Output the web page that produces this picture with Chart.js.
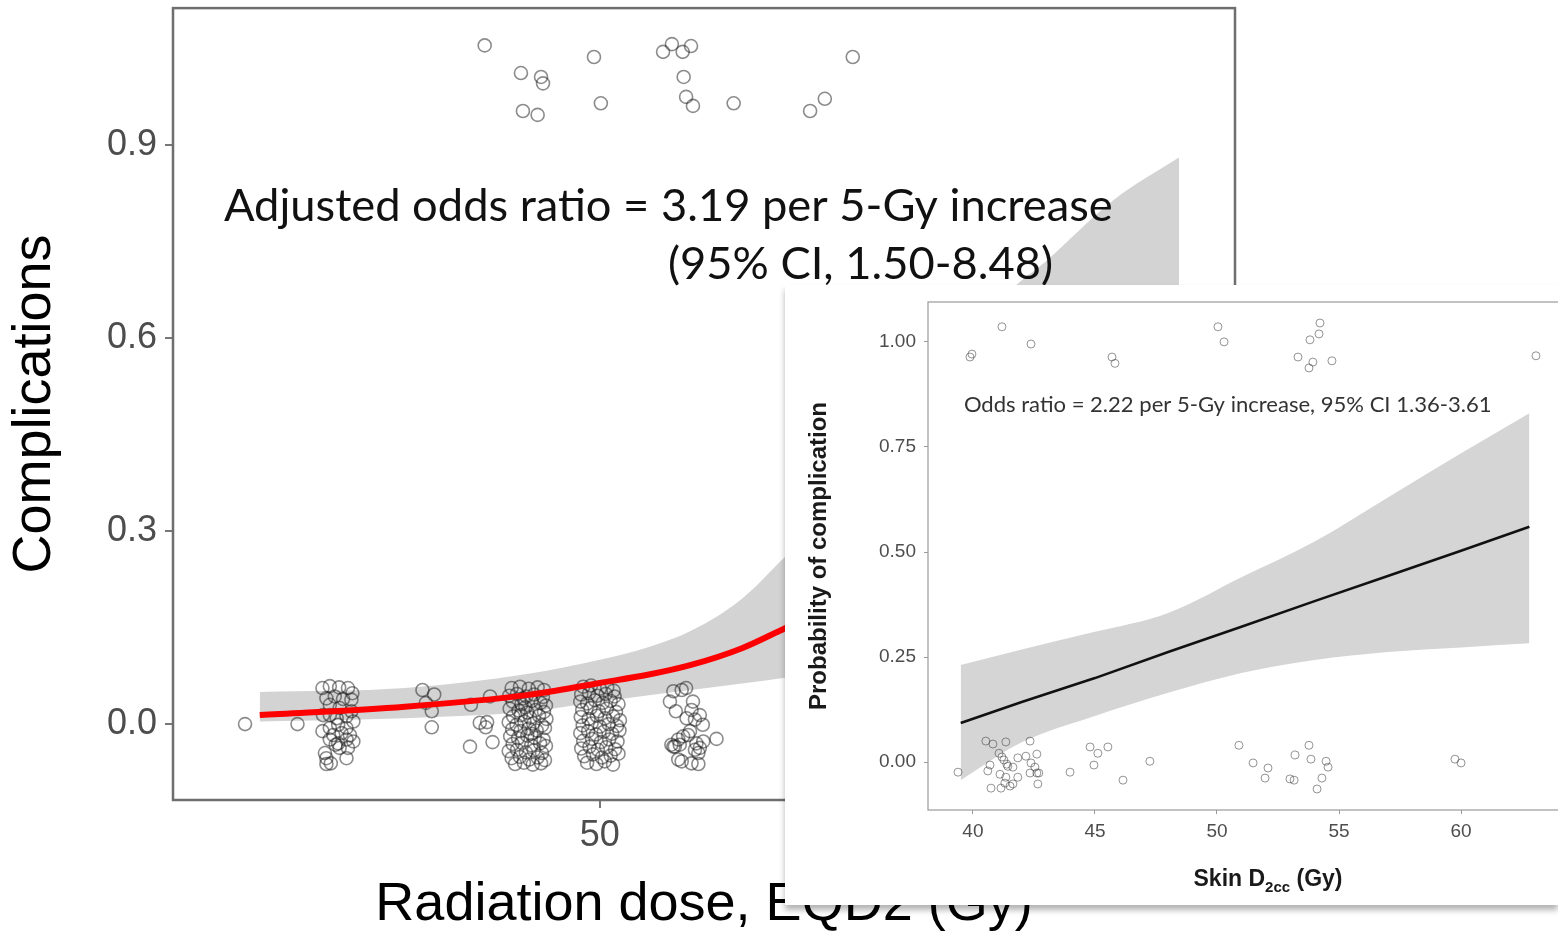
<!DOCTYPE html>
<html>
<head>
<meta charset="utf-8">
<script src="https://cdn.jsdelivr.net/npm/chart.js@4"></script>
<style>
html, body { margin: 0; padding: 0; background: #fff; overflow: hidden; width: 1558px; height: 934px; }
#main { position: absolute; left: 0; top: 0; }
#card { position: absolute; left: 785px; top: 285px; width: 773px; height: 620px; background: #fff;
        overflow: hidden; box-shadow: 0 5px 6px rgba(0,0,0,0.3); }
#inset { position: absolute; left: 0; top: 0; }
</style>
</head>
<body>
<canvas id="main" width="1558" height="934"></canvas>
<div id="card"><canvas id="inset" width="790" height="620"></canvas></div>
<script>
// ---- main chart: EQD2 vs complications ----
const mainXTicks = [50, 60];
const mainYTicks = [0, 0.3, 0.6, 0.9];

// fitted curve + 95% band
const curveDose  = [43.06, 46.02, 48.51, 50.0, 51.0, 51.86, 52.9, 53.78, 55.0, 56.12, 57.14, 58.37, 59.08, 60.49, 61.82];
const curveFit   = [0.014, 0.027, 0.045, 0.064, 0.077, 0.092, 0.118, 0.149, 0.19, 0.24, 0.29, 0.36, 0.40, 0.49, 0.58];
const curveUpper = [0.050, 0.056, 0.078, 0.100, 0.120, 0.145, 0.195, 0.260, 0.35, 0.45, 0.55, 0.673, 0.718, 0.815, 0.881];
const curveLower = [0.004, 0.009, 0.019, 0.035, 0.045, 0.053, 0.063, 0.072, 0.085, 0.10, 0.115, 0.14, 0.155, 0.19, 0.225];

// patients with complication (jittered around 1)
const pointsHigh = [
  [47.65,1.055],[48.39,1.012],[48.80,1.006],[48.84,0.996],[48.43,0.953],[48.73,0.947],
  [49.88,1.037],[50.02,0.965],[51.29,1.045],[51.47,1.057],[51.69,1.045],[51.86,1.054],
  [51.71,1.006],[51.76,0.975],[51.90,0.961],[52.73,0.965],[54.29,0.953],[54.59,0.972],[55.16,1.037]
];

// patients without complication (jittered around 0)
const pointsLow = [
  // scattered
  [42.76,0.000],[43.83,0.000],[46.38,0.053],[46.62,0.046],[46.45,0.033],[46.57,0.020],[46.57,-0.005],
  [47.37,0.030],[47.55,0.002],[47.70,0.003],[47.67,-0.005],[47.76,0.043],[47.35,-0.035],[47.81,-0.028],
  // cluster near 44.6
  [44.34,0.056],[44.49,0.059],[44.68,0.057],[44.86,0.056],[44.95,0.048],[44.42,0.040],[44.59,0.043],
  [44.76,0.039],[44.93,0.038],[44.49,0.030],[44.69,0.025],[44.35,0.014],[44.49,0.014],[44.63,0.009],
  [44.83,0.012],[44.97,0.004],[44.49,-0.006],[44.66,-0.001],[44.83,-0.006],[44.34,-0.011],[44.56,-0.017],
  [44.73,-0.014],[44.90,-0.017],[44.49,-0.024],[44.66,-0.030],[44.83,-0.024],[44.97,-0.027],[44.69,-0.037],
  [44.86,-0.037],[44.39,-0.045],[44.42,-0.053],[44.42,-0.062],[44.51,-0.061],[44.83,-0.053],[44.61,-0.032],
  [44.93,0.020],
  // cluster near 48.5
  [48.20,0.056],[48.37,0.058],[48.55,0.055],[48.73,0.057],[48.86,0.053],
  [48.15,0.044],[48.31,0.047],[48.50,0.043],[48.66,0.046],[48.84,0.042],
  [48.22,0.035],[48.40,0.031],[48.61,0.036],[48.79,0.033],[48.90,0.029],
  [48.16,0.024],[48.34,0.021],[48.48,0.026],[48.69,0.022],[48.86,0.019],
  [48.23,0.012],[48.39,0.014],[48.58,0.010],[48.76,0.013],[48.91,0.008],
  [48.14,0.003],[48.30,-0.001],[48.46,0.004],[48.64,0.001],[48.82,-0.002],
  [48.21,-0.008],[48.38,-0.011],[48.55,-0.007],[48.71,-0.010],[48.88,-0.006],
  [48.17,-0.019],[48.33,-0.022],[48.52,-0.018],[48.67,-0.021],[48.85,-0.024],
  [48.22,-0.031],[48.41,-0.029],[48.60,-0.033],[48.78,-0.030],[48.90,-0.034],
  [48.14,-0.042],[48.31,-0.040],[48.49,-0.044],[48.65,-0.041],[48.82,-0.045],
  [48.20,-0.053],[48.37,-0.051],[48.56,-0.055],[48.73,-0.052],[48.88,-0.056],
  [48.27,-0.062],[48.45,-0.060],[48.63,-0.063],[48.80,-0.061],[48.44,0.040],[48.60,-0.015],[48.52,0.018],
  // cluster near 50
  [49.66,0.058],[49.82,0.060],[50.00,0.055],[50.15,0.057],[50.28,0.052],
  [49.62,0.046],[49.78,0.048],[49.95,0.044],[50.12,0.047],[50.30,0.043],
  [49.60,0.035],[49.74,0.032],[49.90,0.037],[50.06,0.033],[50.22,0.036],[50.38,0.031],
  [49.64,0.022],[49.81,0.025],[49.98,0.020],[50.14,0.024],[50.33,0.019],
  [49.61,0.011],[49.77,0.008],[49.94,0.013],[50.10,0.009],[50.27,0.012],[50.41,0.006],
  [49.65,-0.002],[49.83,0.001],[50.00,-0.004],[50.18,0.000],[50.35,-0.003],
  [49.60,-0.014],[49.76,-0.011],[49.92,-0.016],[50.08,-0.012],[50.25,-0.015],[50.40,-0.010],
  [49.66,-0.026],[49.84,-0.023],[50.02,-0.028],[50.19,-0.024],[50.36,-0.027],
  [49.62,-0.038],[49.79,-0.035],[49.96,-0.040],[50.13,-0.036],[50.31,-0.039],
  [49.68,-0.050],[49.86,-0.047],[50.04,-0.052],[50.22,-0.049],[50.38,-0.046],
  [49.74,-0.060],[49.93,-0.062],[50.10,-0.058],[50.27,-0.063],
  // cluster near 51.8
  [51.50,0.051],[51.67,0.053],[51.76,0.056],[51.43,0.035],[51.90,0.035],[51.55,0.020],[51.87,0.022],
  [52.04,0.014],[51.77,0.009],[52.10,-0.001],[51.94,0.007],[51.84,-0.011],[51.70,-0.019],[51.60,-0.024],
  [51.46,-0.032],[51.53,-0.035],[51.63,-0.032],[51.97,-0.030],[52.11,-0.027],[52.38,-0.023],[52.04,-0.037],
  [51.94,-0.040],[52.01,-0.045],[51.60,-0.055],[51.67,-0.058],[51.87,-0.061],[52.01,-0.062],[51.50,-0.035],
  [51.80,-0.017]
];

// ---- inset chart: skin D2cc vs probability ----
const insetXTicks = [40, 45, 50, 55, 60];
const insetYTicks = [0, 0.25, 0.5, 0.75, 1];
const insetDose  = [39.5, 42, 45, 48, 51, 54, 57, 60, 62.8];
const insetFit   = [0.093, 0.143, 0.200, 0.262, 0.322, 0.383, 0.443, 0.503, 0.560];
const insetUpper = [0.231, 0.268, 0.310, 0.355, 0.440, 0.525, 0.630, 0.735, 0.830];
const insetLower = [-0.043, 0.047, 0.110, 0.165, 0.212, 0.243, 0.262, 0.273, 0.283];

const insetHigh = [
  [39.88,0.964],[39.96,0.971],[41.19,1.036],[42.38,0.995],[45.70,0.964],[45.82,0.949],
  [50.04,1.036],[50.29,1.000],[54.22,1.045],[54.18,1.019],[53.81,1.005],[53.32,0.964],
  [53.93,0.952],[53.77,0.938],[54.71,0.955],[63.07,0.967]
];
const insetLow = [
  [39.39,-0.024],[40.53,0.050],[40.82,0.043],[41.35,0.048],[42.34,0.050],[40.70,-0.007],[40.61,-0.021],
  [41.07,0.021],[41.19,0.012],[41.27,0.005],[41.39,-0.005],[41.43,-0.010],[41.11,-0.029],[41.35,-0.036],
  [41.31,-0.050],[41.64,-0.012],[41.84,0.010],[42.17,0.014],[42.62,0.019],[42.38,-0.002],[42.54,-0.012],
  [42.34,-0.026],[42.62,-0.026],[42.70,-0.026],[41.84,-0.036],[41.64,-0.052],[41.52,-0.057],[41.15,-0.062],
  [40.74,-0.062],[42.66,-0.052],[43.98,-0.024],[44.80,0.036],[45.12,0.021],[45.53,0.036],[44.96,-0.007],
  [46.15,-0.043],[47.25,0.002],[50.90,0.040],[51.48,-0.002],[52.09,-0.014],[51.97,-0.038],[53.20,0.017],
  [52.99,-0.040],[53.16,-0.043],[53.77,0.040],[53.85,0.007],[54.47,0.002],[54.55,-0.012],[54.30,-0.038],
  [54.10,-0.064],[59.75,0.007],[60.00,-0.002]
];

const SANS = "'Liberation Sans', Arial, sans-serif";
const NOTE = "Lato, 'Open Sans', sans-serif";

const xy = arr => arr.map(p => ({ x: p[0], y: p[1] }));
const zipXY = (xs, ys) => xs.map((x, i) => ({ x: x, y: ys[i] }));

// fixed axis sizes, no extra padding for half tick labels
const fixWidth = w => s => { s.width = w; s.paddingTop = 0; s.paddingBottom = 0; };
const fixHeight = h => s => { s.height = h; s.paddingLeft = 0; s.paddingRight = 0; };

// frame around the plot area
const boxPlugin = {
  id: 'box',
  afterDatasetsDraw(chart, args, opts) {
    const { ctx, chartArea: a } = chart;
    ctx.save();
    ctx.strokeStyle = opts.color;
    ctx.lineWidth = opts.width;
    ctx.strokeRect(a.left, a.top, a.right - a.left, a.bottom - a.top);
    ctx.restore();
  }
};

// text annotations placed in data units
const notePlugin = {
  id: 'note',
  afterDatasetsDraw(chart, args, opts) {
    const { ctx, scales } = chart;
    ctx.save();
    ctx.font = opts.size + 'px ' + opts.family;
    const size = opts.size * opts.fitWidth / ctx.measureText(opts.items[0].text).width;
    ctx.font = size.toFixed(2) + 'px ' + opts.family;
    ctx.fillStyle = opts.color;
    ctx.textAlign = 'left';
    ctx.textBaseline = 'middle';
    opts.items.forEach(it => {
      ctx.fillText(it.text, scales.x.getPixelForValue(it.x), scales.y.getPixelForValue(it.y));
    });
    ctx.restore();
  }
};

// axis title with a subscript (Skin D2cc)
const subTitlePlugin = {
  id: 'subTitle',
  afterDraw(chart, args, o) {
    const { ctx, chartArea: a } = chart;
    ctx.save();
    ctx.fillStyle = o.color;
    ctx.textBaseline = 'alphabetic';
    ctx.textAlign = 'left';
    const big = 'bold ' + o.size + 'px ' + o.family;
    const small = 'bold ' + o.subSize + 'px ' + o.family;
    ctx.font = big;
    const w1 = ctx.measureText(o.main).width, w3 = ctx.measureText(o.after).width;
    ctx.font = small;
    const w2 = ctx.measureText(o.sub).width;
    let x = (a.left + a.right) / 2 + o.offsetX - (w1 + w2 + w3) / 2;
    const base = a.bottom + o.gap;
    ctx.font = big; ctx.fillText(o.main, x, base); x += w1;
    ctx.font = small; ctx.fillText(o.sub, x, base + o.subDrop); x += w2;
    ctx.font = big; ctx.fillText(o.after, x, base);
    ctx.restore();
  }
};

new Chart(document.getElementById('main').getContext('2d'), {
  type: 'line',
  data: {
    datasets: [
      { data: zipXY(curveDose, curveFit), borderColor: '#ff0000', borderWidth: 6, pointRadius: 0,
        cubicInterpolationMode: 'monotone', fill: false, order: 0 },
      { data: xy(pointsLow), showLine: false, pointRadius: 6.5, borderWidth: 1.6,
        borderColor: 'rgba(25,25,25,0.5)', backgroundColor: 'rgba(0,0,0,0)', order: 1 },
      { data: xy(pointsHigh), showLine: false, pointRadius: 6.5, borderWidth: 1.6,
        borderColor: 'rgba(25,25,25,0.5)', backgroundColor: 'rgba(0,0,0,0)', order: 1 },
      { data: zipXY(curveDose, curveUpper), borderWidth: 0, pointRadius: 0, cubicInterpolationMode: 'monotone',
        fill: '+1', backgroundColor: '#d3d3d3', order: 2 },
      { data: zipXY(curveDose, curveLower), borderWidth: 0, pointRadius: 0, cubicInterpolationMode: 'monotone',
        fill: false, order: 3 }
    ]
  },
  options: {
    responsive: false,
    animation: false,
    events: [],
    layout: { padding: { top: 8, right: 323, left: 0, bottom: 0 } },
    scales: {
      x: {
        type: 'linear', min: 41.29, max: 62.96,
        afterBuildTicks: s => { s.ticks = mainXTicks.map(v => ({ value: v })); },
        afterFit: fixHeight(134),
        grid: { drawOnChartArea: false, tickLength: 8, color: '#777', lineWidth: 2 },
        border: { display: false },
        ticks: { padding: 6, color: '#4d4d4d', font: { family: SANS, size: 36 } },
        title: { display: true, text: 'Radiation dose, EQD2 (Gy)', color: '#000',
                 font: { family: SANS, size: 54, lineHeight: 1 }, padding: { top: 0, bottom: 2 } }
      },
      y: {
        min: -0.118, max: 1.113,
        afterBuildTicks: s => { s.ticks = mainYTicks.map(v => ({ value: v })); },
        afterFit: fixWidth(173),
        grid: { drawOnChartArea: false, tickLength: 8, color: '#777', lineWidth: 2 },
        border: { display: false },
        ticks: { padding: 8, color: '#4d4d4d', font: { family: SANS, size: 36 },
                 callback: v => v.toFixed(1) },
        title: { display: true, text: 'Complications', color: '#000',
                 font: { family: SANS, size: 54 }, padding: { top: 3, bottom: 0 } }
      }
    },
    plugins: {
      legend: { display: false },
      tooltip: { enabled: false },
      box: { color: '#6e6e6e', width: 2.5 },
      note: { family: NOTE, size: 40, color: '#111', fitWidth: 889,
              items: [
                { text: 'Adjusted odds ratio = 3.19 per 5-Gy increase', x: 42.33, y: 0.804 },
                { text: '(95% CI, 1.50-8.48)', x: 51.39, y: 0.714 }
              ] }
    }
  },
  plugins: [boxPlugin, notePlugin]
});

new Chart(document.getElementById('inset').getContext('2d'), {
  type: 'line',
  data: {
    datasets: [
      { data: zipXY(insetDose, insetFit), borderColor: '#111', borderWidth: 2.5, pointRadius: 0,
        fill: false, order: 0 },
      { data: xy(insetLow), showLine: false, pointRadius: 4, borderWidth: 1,
        borderColor: 'rgba(60,60,60,0.55)', backgroundColor: 'rgba(0,0,0,0)', order: 1 },
      { data: xy(insetHigh), showLine: false, pointRadius: 4, borderWidth: 1,
        borderColor: 'rgba(60,60,60,0.55)', backgroundColor: 'rgba(0,0,0,0)', order: 1 },
      { data: zipXY(insetDose, insetUpper), borderWidth: 0, pointRadius: 0, cubicInterpolationMode: 'monotone',
        fill: '+1', backgroundColor: '#d5d5d5', order: 2 },
      { data: zipXY(insetDose, insetLower), borderWidth: 0, pointRadius: 0, cubicInterpolationMode: 'monotone',
        fill: false, order: 3 }
    ]
  },
  options: {
    responsive: false,
    animation: false,
    events: [],
    layout: { padding: { top: 17, right: 9, left: 0, bottom: 0 } },
    scales: {
      x: {
        type: 'linear', min: 38.16, max: 64.3,
        afterBuildTicks: s => { s.ticks = insetXTicks.map(v => ({ value: v })); },
        afterFit: fixHeight(95),
        grid: { drawOnChartArea: false, tickLength: 4, color: '#999', lineWidth: 1 },
        border: { display: false },
        ticks: { padding: 6, color: '#4d4d4d', font: { family: SANS, size: 19 } }
      },
      y: {
        min: -0.114, max: 1.095,
        afterBuildTicks: s => { s.ticks = insetYTicks.map(v => ({ value: v })); },
        afterFit: fixWidth(143),
        grid: { drawOnChartArea: false, tickLength: 4, color: '#999', lineWidth: 1 },
        border: { display: false },
        ticks: { padding: 8, color: '#4d4d4d', font: { family: SANS, size: 19 },
                 callback: v => v.toFixed(2) },
        title: { display: true, text: 'Probability of complication', color: '#1a1a1a',
                 font: { family: SANS, size: 24, weight: 'bold' }, padding: { top: 20, bottom: 0 } }
      }
    },
    plugins: {
      legend: { display: false },
      tooltip: { enabled: false },
      box: { color: '#9a9a9a', width: 1.2 },
      note: { family: NOTE, size: 22, color: '#333', fitWidth: 528,
              items: [ { text: 'Odds ratio = 2.22 per 5-Gy increase, 95% CI 1.36-3.61', x: 39.63, y: 0.85 } ] },
      subTitle: { family: SANS, size: 23, subSize: 15, color: '#1a1a1a', offsetX: 21, gap: 76, subDrop: 6,
                  main: 'Skin D', sub: '2cc', after: ' (Gy)' }
    }
  },
  plugins: [boxPlugin, notePlugin, subTitlePlugin]
});
</script>
</body>
</html>
